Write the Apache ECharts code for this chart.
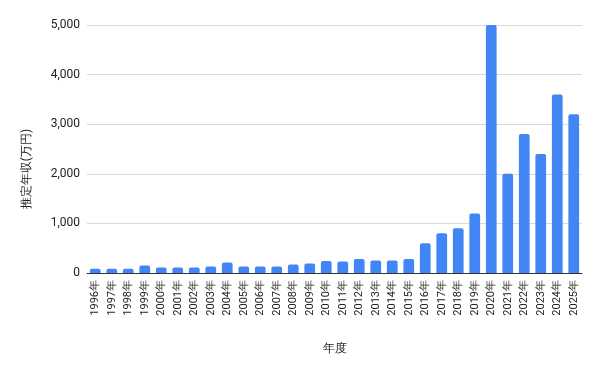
<!DOCTYPE html>
<html><head><meta charset="utf-8">
<script src="https://cdn.jsdelivr.net/npm/echarts@6/dist/echarts.min.js"></script>
<style>html,body{margin:0;padding:0;background:#fff}#c{width:600px;height:370px}</style>
</head><body><div id="c"></div>
<script>
const categories = ["1996年","1997年","1998年","1999年","2000年","2001年","2002年","2003年","2004年","2005年","2006年","2007年","2008年","2009年","2010年","2011年","2012年","2013年","2014年","2015年","2016年","2017年","2018年","2019年","2020年","2021年","2022年","2023年","2024年","2025年"];
const income = [85,85,85,150,110,110,110,130,210,130,130,130,170,190,240,230,280,250,250,280,600,800,900,1200,5000,2000,2800,2400,3600,3200];
const yTicks = [0,1000,2000,3000,4000,5000];
const xName = "年度";
const yName = "推定年収(万円)";

const chart = echarts.init(document.getElementById('c'), null, {renderer:'canvas'});
chart.setOption({
  animation:false,
  textStyle:{fontFamily:'Roboto, Arial, sans-serif'},
  grid:{left:87, right:18, top:25, bottom:97, containLabel:false},
  xAxis:{
    type:'category', data:categories,
    name:xName, nameLocation:'middle', nameGap:70,
    nameTextStyle:{fontSize:12, color:'#222'},
    axisTick:{show:false},
    axisLine:{lineStyle:{color:'#333', width:1}},
    axisLabel:{rotate:90, fontSize:11, color:'#222', margin:7, interval:0}
  },
  yAxis:{
    type:'value', min:yTicks[0], max:yTicks[yTicks.length-1], interval:1000,
    name:yName, nameLocation:'middle', nameGap:54,
    nameTextStyle:{fontSize:12, color:'#222', padding:[0,40,0,0]},
    axisLabel:{fontSize:12, color:'#222', margin:7,
      formatter:v=>v.toLocaleString('en-US')},
    splitLine:{lineStyle:{color:'#d9d9d9'}},
    axisLine:{show:false}, axisTick:{show:false}
  },
  series:[{
    type:'bar', data:income, barCategoryGap:'35%',
    itemStyle:{color:'#4285F4', borderRadius:[2,2,0,0]}
  }]
});
</script></body></html>
